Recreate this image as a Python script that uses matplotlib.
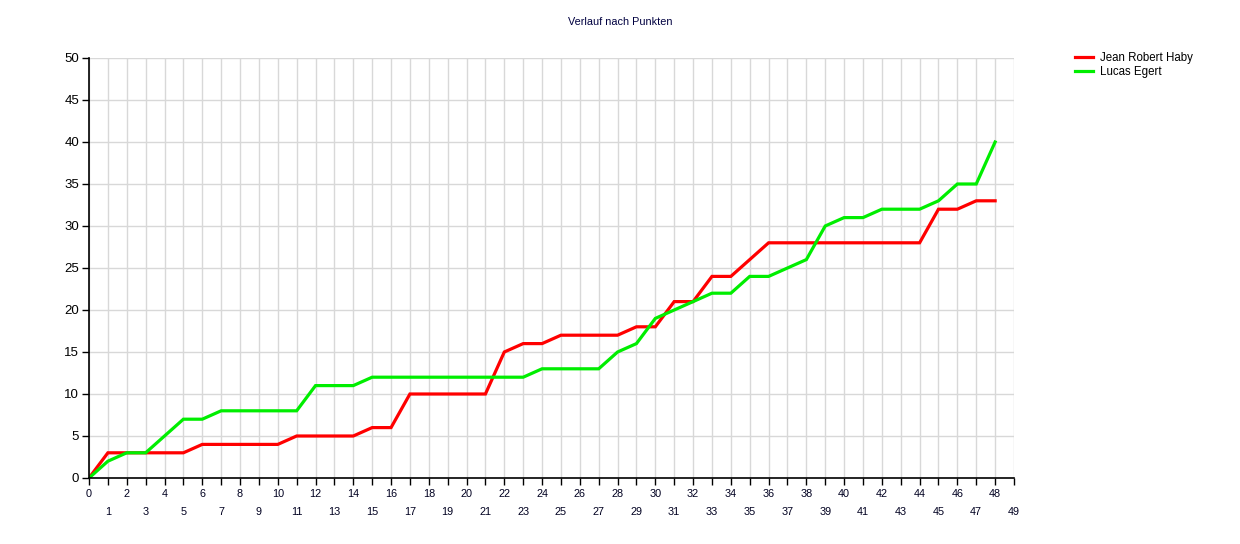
import matplotlib
matplotlib.use("Agg")
import matplotlib.pyplot as plt

plt.rcParams['font.family'] = ['Liberation Sans', 'DejaVu Sans']

# Data
runden = list(range(49))
jean = [0, 3, 3, 3, 3, 3, 4, 4, 4, 4, 4, 5, 5, 5, 5, 6, 6, 10, 10, 10, 10, 10,
        15, 16, 16, 17, 17, 17, 17, 18, 18, 21, 21, 24, 24, 26, 28, 28, 28, 28,
        28, 28, 28, 28, 28, 32, 32, 33, 33]
lucas = [0, 2, 3, 3, 5, 7, 7, 8, 8, 8, 8, 8, 11, 11, 11, 12, 12, 12, 12, 12,
         12, 12, 12, 12, 13, 13, 13, 13, 15, 16, 19, 20, 21, 22, 22, 24, 24, 25,
         26, 30, 31, 31, 32, 32, 32, 33, 35, 35, 40]
namen = ["Jean Robert Haby", "Lucas Egert"]
farben = ["#ff0000", "#00ee00"]

fig = plt.figure(figsize=(12.4, 5.44), dpi=100)
ax = fig.add_axes([89 / 1240, 1 - 478 / 544, (1014 - 89) / 1240, (478 - 58) / 544])

ax.plot(runden, jean, color=farben[0], lw=2.3, label=namen[0], solid_joinstyle="miter")
ax.plot(runden, lucas, color=farben[1], lw=2.3, label=namen[1], solid_joinstyle="miter")

ax.set_xlim(0, 49)
ax.set_ylim(0, 50)
xt = list(range(50))
ax.set_xticks(xt)
ax.set_xticklabels([str(i) if i % 2 == 0 else "\n" + str(i) for i in xt],
                   fontsize=7.8, color="#000020", linespacing=2.0)
ax.set_yticks(range(0, 51, 5))
ax.tick_params(axis="y", labelsize=9.5, length=5, width=1, color="black", pad=2)
ax.tick_params(axis="x", length=5, width=1, color="black", pad=3)
ax.grid(True, color="#d8d8d8", lw=1)
ax.set_axisbelow(True)
for s in ["top", "right"]:
    ax.spines[s].set_visible(False)
ax.spines["left"].set_linewidth(1.2)
ax.spines["bottom"].set_linewidth(1.2)

fig.text(0.5, 1 - 22 / 544, "Verlauf nach Punkten", ha="center", va="center",
         fontsize=7.8, color="#000040")

ax.legend(loc="upper left", bbox_to_anchor=(1069 / 1240, 1 - 46 / 544),
          bbox_transform=fig.transFigure, frameon=False, fontsize=8.3,
          handlelength=1.6, handletextpad=0.6, labelspacing=0.2, borderpad=0)

fig.savefig("out.png", dpi=100)
